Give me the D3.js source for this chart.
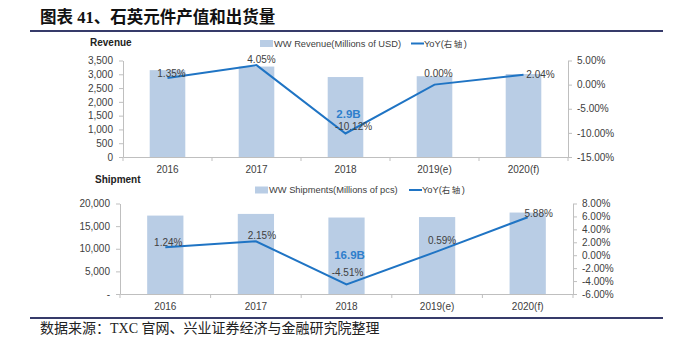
<!DOCTYPE html>
<html>
<head>
<meta charset="utf-8">
<script src="https://cdn.jsdelivr.net/npm/d3@7"></script>
<style>
  body { margin: 0; background: #fff; }
  svg text { font-family: "Liberation Sans", Arial, sans-serif; }
</style>
</head>
<body>
<div id="chart"></div>
<script>
// categorías y series
const years = ['2016', '2017', '2018', '2019(e)', '2020(f)'];

const revenue = [3150, 3280, 2900, 2930, 3010];          // Millions of USD
const revenueYoY = [1.35, 4.05, -10.12, 0.00, 2.04];     // %
const revenueTicks = [0, 500, 1000, 1500, 2000, 2500, 3000, 3500];
const revenueYoYTicks = [5, 0, -5, -10, -15];

const shipments = [17330, 17700, 16900, 17000, 18000];   // Millions of pcs
const shipmentYoY = [1.24, 2.15, -4.51, 0.59, 5.88];     // %
const shipmentTicks = [0, 5000, 10000, 15000, 20000];
const shipmentYoYTicks = [8, 6, 4, 2, 0, -2, -4, -6];

const width = 677;
const height = 342;
const barColor = '#b9cde5';
const lineColor = '#1f74c4';
const axisColor = '#bfbfbf';
const textColor = '#404040';

const svg = d3.select('#chart')
  .append('svg')
  .attr('width', width)
  .attr('height', height);

// cabecera
svg.append('text')
  .attr('x', 40)
  .attr('y', 23)
  .attr('font-size', 16.5)
  .attr('font-weight', 'bold')
  .style('font-family', '"Liberation Serif", "Noto Sans CJK SC", serif')
  .attr('fill', '#111')
  .text('图表 41、石英元件产值和出货量');

svg.append('line')
  .attr('x1', 30).attr('x2', 663)
  .attr('y1', 31).attr('y2', 31)
  .attr('stroke', '#363b6a')
  .attr('stroke-width', 2);

svg.append('line')
  .attr('x1', 30).attr('x2', 663)
  .attr('y1', 318).attr('y2', 318)
  .attr('stroke', '#363b6a')
  .attr('stroke-width', 2);

svg.append('text')
  .attr('x', 40)
  .attr('y', 333)
  .attr('font-size', 14)
  .style('font-family', '"Liberation Serif", "Noto Sans CJK SC", serif')
  .attr('fill', '#222')
  .text('数据来源：TXC 官网、兴业证券经济与金融研究院整理');

drawPanel({
  title: 'Revenue',
  titleX: 90, titleY: 42,
  legendBar: 'WW Revenue(Millions of USD)',
  legendX: 260, legendLineX: 411, legendY: 43.5,
  x0: 123, x1: 568, yTop: 60.5, yBottom: 157,
  values: revenue,
  yoy: revenueYoY,
  ticks: revenueTicks,
  yoyTicks: revenueYoYTicks,
  zeroLabel: '0',
  highlight: 2,
  highlightText: (v) => `${(v / 1000).toFixed(1)}B`,
  nudges: [[4, -5], [5, -6], [8, -7], [4, -11], [17, 0]]
});

drawPanel({
  title: 'Shipment',
  titleX: 95, titleY: 179,
  legendBar: 'WW Shipments(Millions of pcs)',
  legendX: 255, legendLineX: 409, legendY: 190,
  x0: 120, x1: 573, yTop: 203.5, yBottom: 294,
  values: shipments,
  yoy: shipmentYoY,
  ticks: shipmentTicks,
  yoyTicks: shipmentYoYTicks,
  zeroLabel: '-',
  highlight: 2,
  highlightText: (v) => `${(v / 1000).toFixed(1)}B`,
  nudges: [[3, -5], [6, -6], [1, -12], [5, -11], [11, -4]]
});

function drawPanel(cfg) {
  const g = svg.append('g').attr('class', 'panel');

  const x = d3.scaleBand()
    .domain(years)
    .range([cfg.x0, cfg.x1])
    .paddingInner(0.6)
    .paddingOuter(0.3);

  const y = d3.scaleLinear()
    .domain([0, d3.max(cfg.ticks)])
    .range([cfg.yBottom, cfg.yTop]);

  const yR = d3.scaleLinear()
    .domain(d3.extent(cfg.yoyTicks))
    .range([cfg.yBottom, cfg.yTop]);

  // barras
  g.selectAll('.bar')
    .data(cfg.values)
    .enter()
    .append('rect')
    .attr('class', 'bar')
    .attr('x', (d, i) => x(years[i]))
    .attr('y', d => y(d))
    .attr('width', x.bandwidth())
    .attr('height', d => cfg.yBottom - y(d))
    .attr('fill', barColor);

  // eje izquierdo
  const fmt = d3.format(',');
  const axisL = g.append('g')
    .attr('transform', `translate(${cfg.x0},0)`)
    .call(d3.axisLeft(y)
      .tickValues(cfg.ticks)
      .tickSize(4)
      .tickSizeOuter(0)
      .tickPadding(6)
      .tickFormat(d => d === 0 ? cfg.zeroLabel : fmt(d)));

  // eje derecho
  const axisR = g.append('g')
    .attr('transform', `translate(${cfg.x1},0)`)
    .call(d3.axisRight(yR)
      .tickValues(cfg.yoyTicks)
      .tickSize(4)
      .tickSizeOuter(0)
      .tickPadding(5)
      .tickFormat(d => `${d.toFixed(2)}%`));

  // eje inferior, marcas entre categorías
  const axisB = g.append('g')
    .attr('transform', `translate(0,${cfg.yBottom})`)
    .call(d3.axisBottom(x).tickSize(0).tickPadding(9));

  axisB.selectAll('.edge')
    .data(d3.range(years.length + 1))
    .enter()
    .append('line')
    .attr('class', 'edge')
    .attr('x1', i => cfg.x0 + i * x.step())
    .attr('x2', i => cfg.x0 + i * x.step())
    .attr('y1', 0)
    .attr('y2', 4);

  [axisL, axisR, axisB].forEach(a => {
    a.selectAll('path, line').attr('stroke', axisColor);
    a.selectAll('text')
      .attr('font-size', 10)
      .attr('fill', textColor)
      .style('font-family', '"Liberation Sans", Arial, sans-serif');
  });

  // línea YoY
  const line = d3.line()
    .x((d, i) => x(years[i]) + x.bandwidth() / 2)
    .y(d => yR(d));

  g.append('path')
    .datum(cfg.yoy)
    .attr('d', line)
    .attr('fill', 'none')
    .attr('stroke', lineColor)
    .attr('stroke-width', 2);

  g.selectAll('.yoy-label')
    .data(cfg.yoy)
    .enter()
    .append('text')
    .attr('class', 'yoy-label')
    .attr('x', (d, i) => x(years[i]) + x.bandwidth() / 2 + cfg.nudges[i][0])
    .attr('y', (d, i) => yR(d) + cfg.nudges[i][1])
    .attr('dy', '0.35em')
    .attr('text-anchor', 'middle')
    .attr('font-size', 10)
    .attr('fill', textColor)
    .text(d => `${d.toFixed(2)}%`);

  // etiqueta destacada sobre la barra
  const hv = cfg.values[cfg.highlight];
  g.append('text')
    .attr('x', x(years[cfg.highlight]) + x.bandwidth() / 2 + 3)
    .attr('y', y(hv) + 37)
    .attr('dy', '0.35em')
    .attr('text-anchor', 'middle')
    .attr('font-size', 11.5)
    .attr('font-weight', 'bold')
    .attr('fill', '#2f7fcc')
    .text(cfg.highlightText(hv));

  // título del panel
  g.append('text')
    .attr('x', cfg.titleX)
    .attr('y', cfg.titleY)
    .attr('dy', '0.35em')
    .attr('font-size', 10)
    .attr('font-weight', 'bold')
    .attr('fill', '#222')
    .text(cfg.title);

  // leyenda
  const legend = g.append('g').attr('class', 'legend');
  legend.append('rect')
    .attr('x', cfg.legendX)
    .attr('y', cfg.legendY - 3.5)
    .attr('width', 13)
    .attr('height', 7)
    .attr('fill', barColor);
  legend.append('text')
    .attr('x', cfg.legendX + 14)
    .attr('y', cfg.legendY)
    .attr('dy', '0.35em')
    .attr('font-size', 9.3)
    .attr('fill', textColor)
    .text(cfg.legendBar);

  legend.append('line')
    .attr('x1', cfg.legendLineX)
    .attr('x2', cfg.legendLineX + 13)
    .attr('y1', cfg.legendY)
    .attr('y2', cfg.legendY)
    .attr('stroke', lineColor)
    .attr('stroke-width', 2);
  const lt = legend.append('text')
    .attr('x', cfg.legendLineX + 13)
    .attr('y', cfg.legendY)
    .attr('dy', '0.35em')
    .attr('font-size', 9.3)
    .attr('fill', textColor);
  lt.append('tspan').text('YoY(');
  lt.append('tspan')
    .style('font-family', '"Noto Sans CJK SC", sans-serif')
    .attr('font-size', 8.5)
    .attr('letter-spacing', 1.5)
    .text('右轴');
  lt.append('tspan').text(')');
}
</script>
</body>
</html>
